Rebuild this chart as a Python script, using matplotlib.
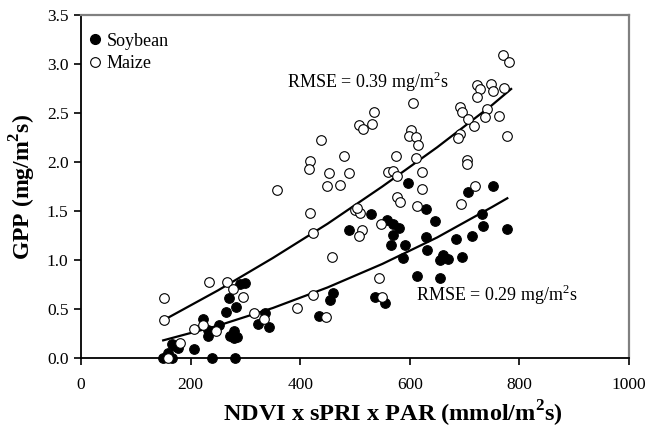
import matplotlib
matplotlib.use("Agg")
import matplotlib.pyplot as plt
from matplotlib.lines import Line2D

plt.rcParams['font.family'] = ['Liberation Serif', 'DejaVu Serif']
plt.rcParams['mathtext.fontset'] = 'custom'
plt.rcParams['mathtext.rm'] = 'Liberation Serif'
plt.rcParams['mathtext.bf'] = 'Liberation Serif:bold'

# maize (open circles)
maize_x = [769.5, 781.6, 722.1, 728.1, 747.6, 752.4, 771.9, 722.1, 605.3, 691.6,
           694.7, 535.2, 740.3, 737.2, 763.3, 706.8, 717.7, 507.8, 515.1, 530.5,
           602.2, 599.1, 611.3, 614.4, 691.6, 688.5, 776.8, 438.0, 611.3, 574.8,
           704.9, 703.8, 480.5, 417.9, 416.6, 453.1, 489.6, 560.8, 569.9, 576.1,
           622.3, 448.4, 472.6, 622.3, 719.0, 577.2, 582.1, 612.6, 693.4, 417.9,
           500.0, 509.1, 504.2, 423.9, 547.4, 512.2, 507.8, 458.6, 543.2, 422.8,
           394.7, 548.7, 447.1, 357.1, 151.5, 151.5, 233.0, 267.0, 276.8, 296.2,
           315.7, 333.9, 223.2, 206.8, 246.4, 180.7, 159.3]
maize_y = [3.09, 3.02, 2.79, 2.74, 2.80, 2.72, 2.75, 2.66, 2.60, 2.56,
           2.51, 2.51, 2.54, 2.46, 2.47, 2.44, 2.37, 2.38, 2.34, 2.39,
           2.33, 2.27, 2.26, 2.17, 2.29, 2.24, 2.27, 2.22, 2.04, 2.06,
           2.02, 1.98, 2.06, 2.01, 1.93, 1.89, 1.89, 1.90, 1.91, 1.86,
           1.90, 1.76, 1.77, 1.72, 1.75, 1.64, 1.59, 1.55, 1.57, 1.48,
           1.51, 1.48, 1.53, 1.28, 1.37, 1.31, 1.24, 1.03, 0.82, 0.64,
           0.51, 0.62, 0.42, 1.71, 0.61, 0.39, 0.78, 0.78, 0.70, 0.62,
           0.46, 0.40, 0.34, 0.30, 0.28, 0.15, 0.0]

# soybean (filled circles)
soy_x = [752.4, 706.8, 596.2, 629.0, 529.7, 646.5, 731.2, 734.1, 776.8, 489.6,
         557.8, 568.8, 580.8, 569.9, 565.7, 590.7, 629.0, 684.3, 714.1, 630.8,
         587.0, 660.0, 655.1, 670.3, 694.7, 613.7, 655.7, 460.4, 454.4, 536.5,
         555.3, 434.9, 290.1, 299.3, 270.1, 282.3, 264.6, 335.8, 322.4, 343.6,
         223.2, 252.4, 232.3, 232.3, 279.7, 271.9, 279.7, 284.1, 165.5, 171.5,
         177.6, 159.3, 156.4, 150.2, 165.5, 239.6, 281.0, 206.8]
soy_y = [1.76, 1.69, 1.79, 1.52, 1.47, 1.40, 1.47, 1.35, 1.32, 1.31,
         1.41, 1.37, 1.33, 1.25, 1.15, 1.15, 1.23, 1.21, 1.24, 1.10,
         1.02, 1.05, 1.00, 1.01, 1.03, 0.84, 0.82, 0.66, 0.59, 0.62,
         0.56, 0.43, 0.75, 0.77, 0.61, 0.52, 0.47, 0.46, 0.35, 0.32,
         0.40, 0.34, 0.29, 0.22, 0.28, 0.22, 0.20, 0.21, 0.14, 0.12,
         0.10, 0.05, 0.01, 0.0, 0.0, 0.0, 0.0, 0.09]

# fitted curves
maize_fit_x = [152, 250, 350, 450, 550, 650, 750, 785]
maize_fit_y = [0.39, 0.69, 1.02, 1.37, 1.75, 2.15, 2.58, 2.745]
soy_fit_x = [150, 250, 350, 450, 550, 650, 750, 778]
soy_fit_y = [0.18, 0.33, 0.51, 0.72, 0.96, 1.23, 1.54, 1.63]

fig = plt.figure(figsize=(6.5, 4.33), dpi=100)
ax = fig.add_axes([0.1246, 0.1732, 0.843, 0.7922])

ax.plot(maize_fit_x, maize_fit_y, color='black', lw=1.6, zorder=2)
ax.plot(soy_fit_x, soy_fit_y, color='black', lw=1.6, zorder=2)
ax.scatter(soy_x, soy_y, s=48, c='black', edgecolors='black', linewidths=0.8,
           clip_on=False, zorder=3)
ax.scatter(maize_x, maize_y, s=48, c='white', edgecolors='black', linewidths=0.8,
           clip_on=False, zorder=4)

ax.text(376, 2.82, r'RMSE = 0.39 mg/m$^2$s', fontsize=13, ha='left', va='center')
ax.text(612, 0.64, r'RMSE = 0.29 mg/m$^2$s', fontsize=13, ha='left', va='center')

handles = [Line2D([], [], ls='none', marker='o', ms=7, mfc='black', mec='black'),
           Line2D([], [], ls='none', marker='o', ms=7, mfc='white', mec='black', mew=0.8)]
ax.legend(handles, ['Soybean', 'Maize'], loc='upper left', bbox_to_anchor=(0.0, 0.975),
          frameon=False, fontsize=13, handlelength=0.6, handletextpad=0.3,
          labelspacing=0.3, borderaxespad=0.1)

ax.set_xlim(0, 1000)
ax.set_ylim(0, 3.5)
ax.set_xticks([0, 200, 400, 600, 800, 1000])
ax.set_yticks([0.0, 0.5, 1.0, 1.5, 2.0, 2.5, 3.0, 3.5])
ax.set_yticklabels(['0.0', '0.5', '1.0', '1.5', '2.0', '2.5', '3.0', '3.5'])
ax.tick_params(direction='out', length=5, width=1.2, labelsize=12.5, pad=4)
ax.tick_params(axis='x', pad=9)

for s in ['left', 'bottom']:
    ax.spines[s].set_color('black')
    ax.spines[s].set_linewidth(1.3)
for s in ['top', 'right']:
    ax.spines[s].set_color('#808080')
    ax.spines[s].set_linewidth(1.6)

ax.set_xlabel(r'NDVI x sPRI x PAR (mmol/m$^{\mathbf{2}}$s)', fontsize=17.5, fontweight='bold')
ax.set_ylabel(r'GPP (mg/m$^{\mathbf{2}}$s)', fontsize=17, fontweight='bold')
ax.xaxis.set_label_coords(0.57, -0.12)
ax.yaxis.set_label_coords(-0.078, 0.5)

fig.savefig('out.png', dpi=100)
